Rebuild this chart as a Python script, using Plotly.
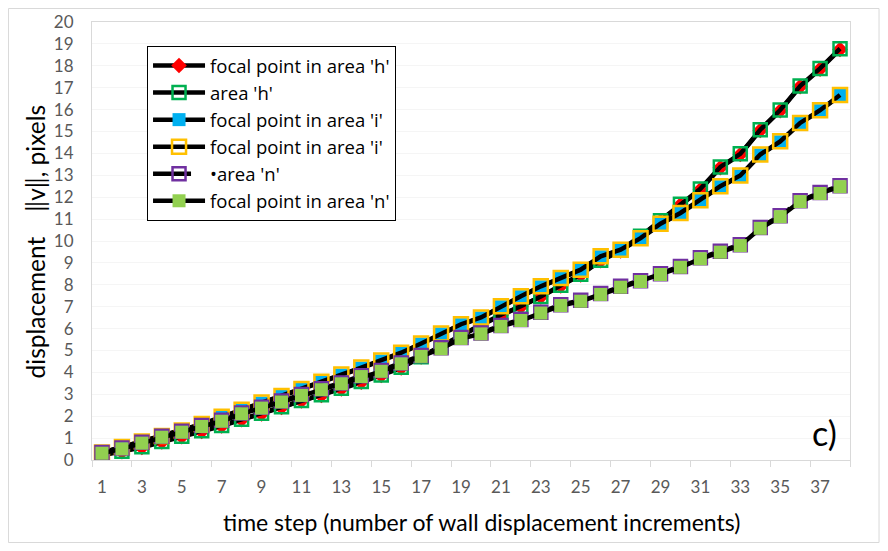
import plotly.graph_objects as go

# ---- data ----
steps = [1, 2, 3, 4, 5, 6, 7, 8, 9, 10, 11, 12, 13, 14, 15, 16, 17, 18, 19,
         20, 21, 22, 23, 24, 25, 26, 27, 28, 29, 30, 31, 32, 33, 34, 35, 36, 37, 38]
tick_steps = [1, 3, 5, 7, 9, 11, 13, 15, 17, 19, 21, 23, 25, 27, 29, 31, 33, 35, 37]
tick_labels = ["1", "3", "5", "7", "9", "11", "13", "15", "17", "19", "21", "23",
               "25", "27", "29", "31", "33", "35", "37"]
y_ticks = [0, 1, 2, 3, 4, 5, 6, 7, 8, 9, 10, 11, 12, 13, 14, 15, 16, 17, 18, 19, 20]

focal_h = [0.22, 0.38, 0.57, 0.82, 1.06, 1.30, 1.55, 1.84, 2.10, 2.40, 2.70, 2.95,
           3.25, 3.55, 3.86, 4.20, 4.70, 5.20, 5.70, 6.15, 6.60, 7.00, 7.45, 7.95,
           8.45, 9.10, 9.55, 10.20, 10.90, 11.65, 12.35, 13.35, 13.95, 15.05,
           15.95, 17.05, 17.85, 18.75]
area_h = [0.24, 0.40, 0.60, 0.85, 1.08, 1.33, 1.58, 1.86, 2.13, 2.43, 2.72, 2.98,
          3.28, 3.58, 3.88, 4.23, 4.72, 5.22, 5.72, 6.18, 6.63, 7.02, 7.47, 7.98,
          8.48, 9.12, 9.58, 10.22, 10.92, 11.68, 12.38, 13.38, 13.98, 15.08,
          15.98, 17.08, 17.88, 18.78]
focal_i = [0.32, 0.57, 0.82, 1.08, 1.33, 1.62, 1.95, 2.28, 2.60, 2.90, 3.22, 3.55,
           3.88, 4.20, 4.52, 4.88, 5.30, 5.76, 6.18, 6.49, 7.00, 7.46, 7.91, 8.29,
           8.67, 9.28, 9.58, 10.11, 10.77, 11.26, 11.84, 12.48, 12.97, 13.93,
           14.53, 15.37, 15.95, 16.65]
focal_i2 = [0.34, 0.59, 0.84, 1.10, 1.35, 1.64, 1.97, 2.30, 2.62, 2.92, 3.24, 3.57,
            3.90, 4.22, 4.54, 4.90, 5.32, 5.78, 6.20, 6.51, 7.02, 7.48, 7.93, 8.31,
            8.69, 9.30, 9.60, 10.13, 10.79, 11.28, 11.86, 12.50, 12.99, 13.95,
            14.55, 15.39, 15.97, 16.67]
area_n = [0.34, 0.55, 0.81, 1.08, 1.31, 1.57, 1.81, 2.15, 2.41, 2.69, 2.99, 3.25,
          3.52, 3.85, 4.09, 4.43, 4.77, 5.12, 5.59, 5.80, 6.14, 6.41, 6.75, 7.09,
          7.29, 7.60, 7.93, 8.19, 8.51, 8.84, 9.23, 9.53, 9.83, 10.62, 11.15,
          11.84, 12.21, 12.52]
focal_n = [0.31, 0.51, 0.77, 1.04, 1.27, 1.53, 1.77, 2.11, 2.37, 2.65, 2.95, 3.21,
           3.48, 3.81, 4.05, 4.39, 4.73, 5.08, 5.55, 5.76, 6.10, 6.37, 6.71, 7.05,
           7.25, 7.56, 7.89, 8.15, 8.47, 8.80, 9.19, 9.49, 9.79, 10.58, 11.11,
           11.80, 12.17, 12.48]

names = ["focal point in area 'h'", "area 'h'", "focal point in area 'i'",
         "focal point in area 'i'", "•area 'n'", "focal point in area 'n'"]

FONT = "Lato, 'Open Sans', sans-serif"
LEGEND_FONT = "'Open Sans', Lato, sans-serif"

fig = go.Figure()

series = [
    (focal_h, names[0], dict(symbol="diamond", size=12, color="#FF0000",
                             line=dict(width=0)), "solid"),
    (area_h, names[1], dict(symbol="square-open", size=13, color="#00B050",
                            line=dict(width=2.5)), "solid"),
    (focal_i, names[2], dict(symbol="square", size=13, color="#00B0F0",
                             line=dict(width=0)), "solid"),
    (focal_i2, names[3], dict(symbol="square-open", size=14, color="#FFC000",
                              line=dict(width=2.5)), "solid"),
    (area_n, names[4], dict(symbol="square-open", size=13, color="#7030A0",
                            line=dict(width=2.5)), "38px,20px"),
    (focal_n, names[5], dict(symbol="square", size=13, color="#92D050",
                             line=dict(width=0)), "solid"),
]

for vals, nm, mk, dash in series:
    fig.add_trace(go.Scatter(
        x=steps, y=vals, name=nm, mode="lines+markers",
        line=dict(color="black", width=4.5, dash=dash),
        marker=mk,
    ))

# The page body has an 8px margin, so the figure is sized/offset to compensate.
fig.update_layout(
    width=872, height=535,
    margin=dict(l=84, r=30, t=14, b=83, autoexpand=False),
    paper_bgcolor="white", plot_bgcolor="white",
    font=dict(family=FONT, color="#595959", size=16),
    showlegend=True,
    legend=dict(
        x=0.0726, y=0.9452, xanchor="left", yanchor="top",
        bordercolor="black", borderwidth=1, bgcolor="white",
        font=dict(family=LEGEND_FONT, size=18.5, color="black"),
        itemwidth=52, traceorder="normal",
    ),
    xaxis=dict(
        range=[0.5, 38.5], tickmode="array", tickvals=tick_steps,
        ticktext=tick_labels, ticks="", showgrid=False, zeroline=False,
        showline=True, linecolor="#d9d9d9", linewidth=1, mirror=True,
        automargin=False,
        tickfont=dict(size=17, color="#595959"), ticklabelstandoff=12,
        minor=dict(tickmode="array",
                   tickvals=[0.5, 2.5, 4.5, 6.5, 8.5, 10.5, 12.5, 14.5, 16.5,
                             18.5, 20.5, 22.5, 24.5, 26.5, 28.5, 30.5, 32.5,
                             34.5, 36.5, 38.5],
                   ticks="outside", ticklen=6, tickcolor="#d9d9d9",
                   showgrid=False),
    ),
    yaxis=dict(
        range=[0, 20], tickmode="array", tickvals=y_ticks, ticks="",
        showgrid=True, gridcolor="#f5f5f5", zeroline=False,
        showline=True, linecolor="#d9d9d9", linewidth=1, mirror=True,
        automargin=False,
        tickfont=dict(size=17, color="#595959"), ticklabelstandoff=14,
    ),
)

# axis titles and panel label
fig.add_annotation(text="time step (number of wall displacement increments)",
                   xref="paper", yref="paper", x=0.5145, y=-0.1416,
                   xanchor="center", yanchor="middle", showarrow=False,
                   font=dict(family=FONT, size=23, color="black"))
fig.add_annotation(text="displacement\u00a0\u00a0\u00a0 ‖v‖, pixels",
                   xref="paper", yref="paper", x=-0.0752, y=0.499,
                   xanchor="center", yanchor="middle", showarrow=False,
                   textangle=-90,
                   font=dict(family=FONT, size=24.5, color="black"))
fig.add_annotation(text="c)", xref="paper", yref="paper", x=0.9657, y=0.0639,
                   xanchor="center", yanchor="middle", showarrow=False,
                   font=dict(family=FONT, size=34, color="black"))

# outer chart border
fig.add_shape(type="rect", xref="paper", yref="paper",
              x0=-0.1102, x1=1.0383, y0=-0.1884, y1=1.0308,
              line=dict(color="#d9d9d9", width=1), layer="below")

fig.write_html("out.html")
